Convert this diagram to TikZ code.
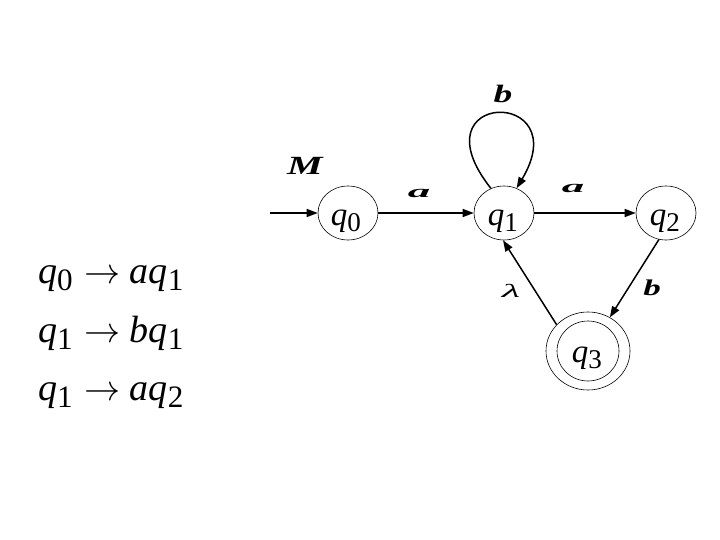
\RequirePackage{fix-cm}
\documentclass[tikz,border=0pt]{standalone}
\usepackage{fontspec}
\setmainfont{Liberation Serif}
\usetikzlibrary{arrows.meta,shapes.geometric}
\newcommand\qs[2]{{\itshape #1}\raisebox{-0.2em}{\scalebox{0.82}{#2}}}
\newcommand\ra{\hspace{0.3em}\scalebox{0.95}{$\rightarrow$}\hspace{0.25em}}
\begin{document}
\begin{tikzpicture}[x=1pt,y=-1pt,
  state/.style={draw,ellipse,line width=0.6pt,inner sep=0pt,minimum width=60pt,minimum height=54pt},
  slab/.style={inner sep=0pt,font=\fontsize{33}{33}\selectfont},
  edge/.style={line width=1.5pt,-{Triangle[length=11pt,width=8pt]}},
  elab/.style={inner sep=0pt,font=\fontsize{25}{25}\selectfont\bfseries\itshape},
  rule/.style={anchor=base west,inner sep=0pt,font=\fontsize{38}{38}\selectfont}]
\useasboundingbox (0,0) rectangle (720,540);
\node[state] (q0) at (348,213) {};
\node[state] (q1) at (504,213) {};
\node[state] (q2) at (666,213) {};
\node[state,minimum width=84pt,minimum height=78pt] (q3) at (588,351) {};
\node[state,minimum width=62pt,minimum height=60pt] (q3in) at (588,351) {};
\node[slab] (t0) at (346,221) {\qs{q}{0}};
\node[slab] (t1) at (503,221) {\qs{q}{1}};
\node[slab] (t2) at (665,221) {\qs{q}{2}};
\node[slab] (t3) at (587,358) {\qs{q}{3}};
\coordinate (start) at (270,213);
\draw[edge] (start) -- (q0);
\draw[edge] (q0) -- (q1);
\draw[edge] (q1) -- (q2);
\draw[edge] (q2.255) -- (q3.57);
\draw[edge] (q3.140) -- (q1.268);
\draw[edge] (q1.118) .. controls (413,90) and (577,87) .. (q1.63);
\node[elab] (lm) at (305,166) {\scalebox{1.6}[1.05]{M}};
\node[elab] (la1) at (419,193) {\scalebox{1.8}[0.7]{a}};
\node[elab] (la2) at (573,188) {\scalebox{1.8}[0.7]{a}};
\node[elab] (lb1) at (503,94) {\scalebox{1.5}[1]{b}};
\node[elab] (lb2) at (652,288) {\scalebox{1.4}[0.9]{b}};
\node[elab,font=\fontsize{25}{25}\selectfont\itshape] (ll) at (511,291) {\scalebox{1.7}[0.75]{λ}};
\node[rule] (r1) at (38,283) {\qs{q}{0}\ra{\itshape a}\qs{q}{1}};
\node[rule] (r2) at (38,342) {\qs{q}{1}\ra{\itshape b}\qs{q}{1}};
\node[rule] (r3) at (38,400) {\qs{q}{1}\ra{\itshape a}\qs{q}{2}};
\end{tikzpicture}
\end{document}
